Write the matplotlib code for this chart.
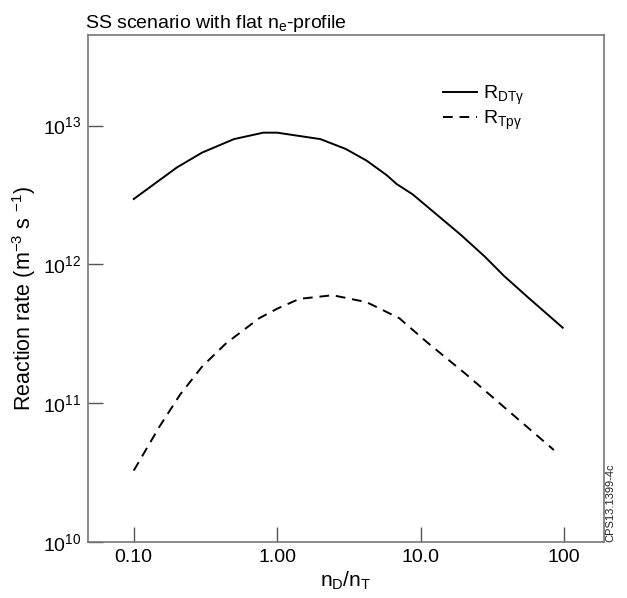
import numpy as np
import matplotlib
matplotlib.use("Agg")
import matplotlib.pyplot as plt

plt.rcParams['font.family'] = ['Liberation Sans', 'DejaVu Sans']
plt.rcParams['mathtext.fontset'] = 'custom'
plt.rcParams['mathtext.rm'] = 'Liberation Sans'
plt.rcParams['mathtext.it'] = 'Liberation Sans:italic'

# n_D/n_T ratio and reaction rates (m^-3 s^-1)
ratio_dt = [0.1, 0.2, 0.3, 0.5, 0.8, 1.0, 2.0, 3.0, 4.2, 5.8, 6.8, 8.8, 19, 28, 38, 56, 98]
rate_dt = [2.96e12, 5.0e12, 6.4e12, 8.0e12, 8.9e12, 8.9e12, 8.0e12, 6.8e12, 5.6e12,
           4.4e12, 3.8e12, 3.2e12, 1.64e12, 1.14e12, 8.3e11, 5.8e11, 3.5e11]

ratio_tp = [0.1, 0.15, 0.21, 0.3, 0.44, 0.75, 1.0, 1.43, 2.44, 4.2, 7.1, 11, 21, 40, 85]
rate_tp = [3.27e10, 6.7e10, 1.15e11, 1.84e11, 2.7e11, 4.1e11, 4.8e11, 5.65e11, 6.0e11,
           5.35e11, 4.1e11, 2.77e11, 1.6e11, 9.0e10, 4.6e10]

xticks = [0.1, 1, 10, 100]
xticklabels = ['0.10', '1.00', '10.0', '100']
yticks = [1e10, 1e11, 1e12, 1e13]
yticklabels = ['$10^{10}$', '$10^{11}$', '$10^{12}$', '$10^{13}$']

fig = plt.figure(figsize=(6.27, 5.98), dpi=100)
ax = fig.add_axes([0.1404, 0.0936, 0.8229, 0.8479])

ax.plot(ratio_dt, rate_dt, color='black', lw=1.4, label='R$_{\\mathrm{DTγ}}$')
ax.plot(ratio_tp, rate_tp, color='black', lw=1.4, ls=(0, (5, 3.5)), label='R$_{\\mathrm{Tpγ}}$')

ax.set_xscale('log')
ax.set_yscale('log')
ax.set_xlim(0.048, 190)
ax.set_ylim(1e10, 4.5e13)
ax.set_xticks(xticks)
ax.set_xticklabels(xticklabels)
ax.set_yticks(yticks)
ax.set_yticklabels(yticklabels)
ax.minorticks_off()
ax.tick_params(direction='in', length=11, width=1, color='#555555', labelsize=14, pad=5)

for s in ax.spines.values():
    s.set_color('#777777')
    s.set_linewidth(1.2)

ax.set_xlabel('n$_\\mathrm{D}$/n$_\\mathrm{T}$', fontsize=15, labelpad=3)
ax.set_ylabel('Reaction rate (m$^{-3}$ s $^{-1}$)', fontsize=15.5)
ax.yaxis.set_label_coords(-0.097, 0.48)
ax.set_title('SS scenario with flat n$_\\mathrm{e}$-profile', fontsize=14, loc='left', pad=5, x=-0.005)

ax.legend(loc='upper left', bbox_to_anchor=(0.67, 0.923), frameon=False, fontsize=14,
          handlelength=1.7, handletextpad=0.35, labelspacing=0.1, borderpad=0)

fig.text(0.973, 0.16, 'CPS13.1399-4c', rotation=90, fontsize=8, ha='center', va='center', color='#222222')

fig.savefig('out.png', dpi=100)
